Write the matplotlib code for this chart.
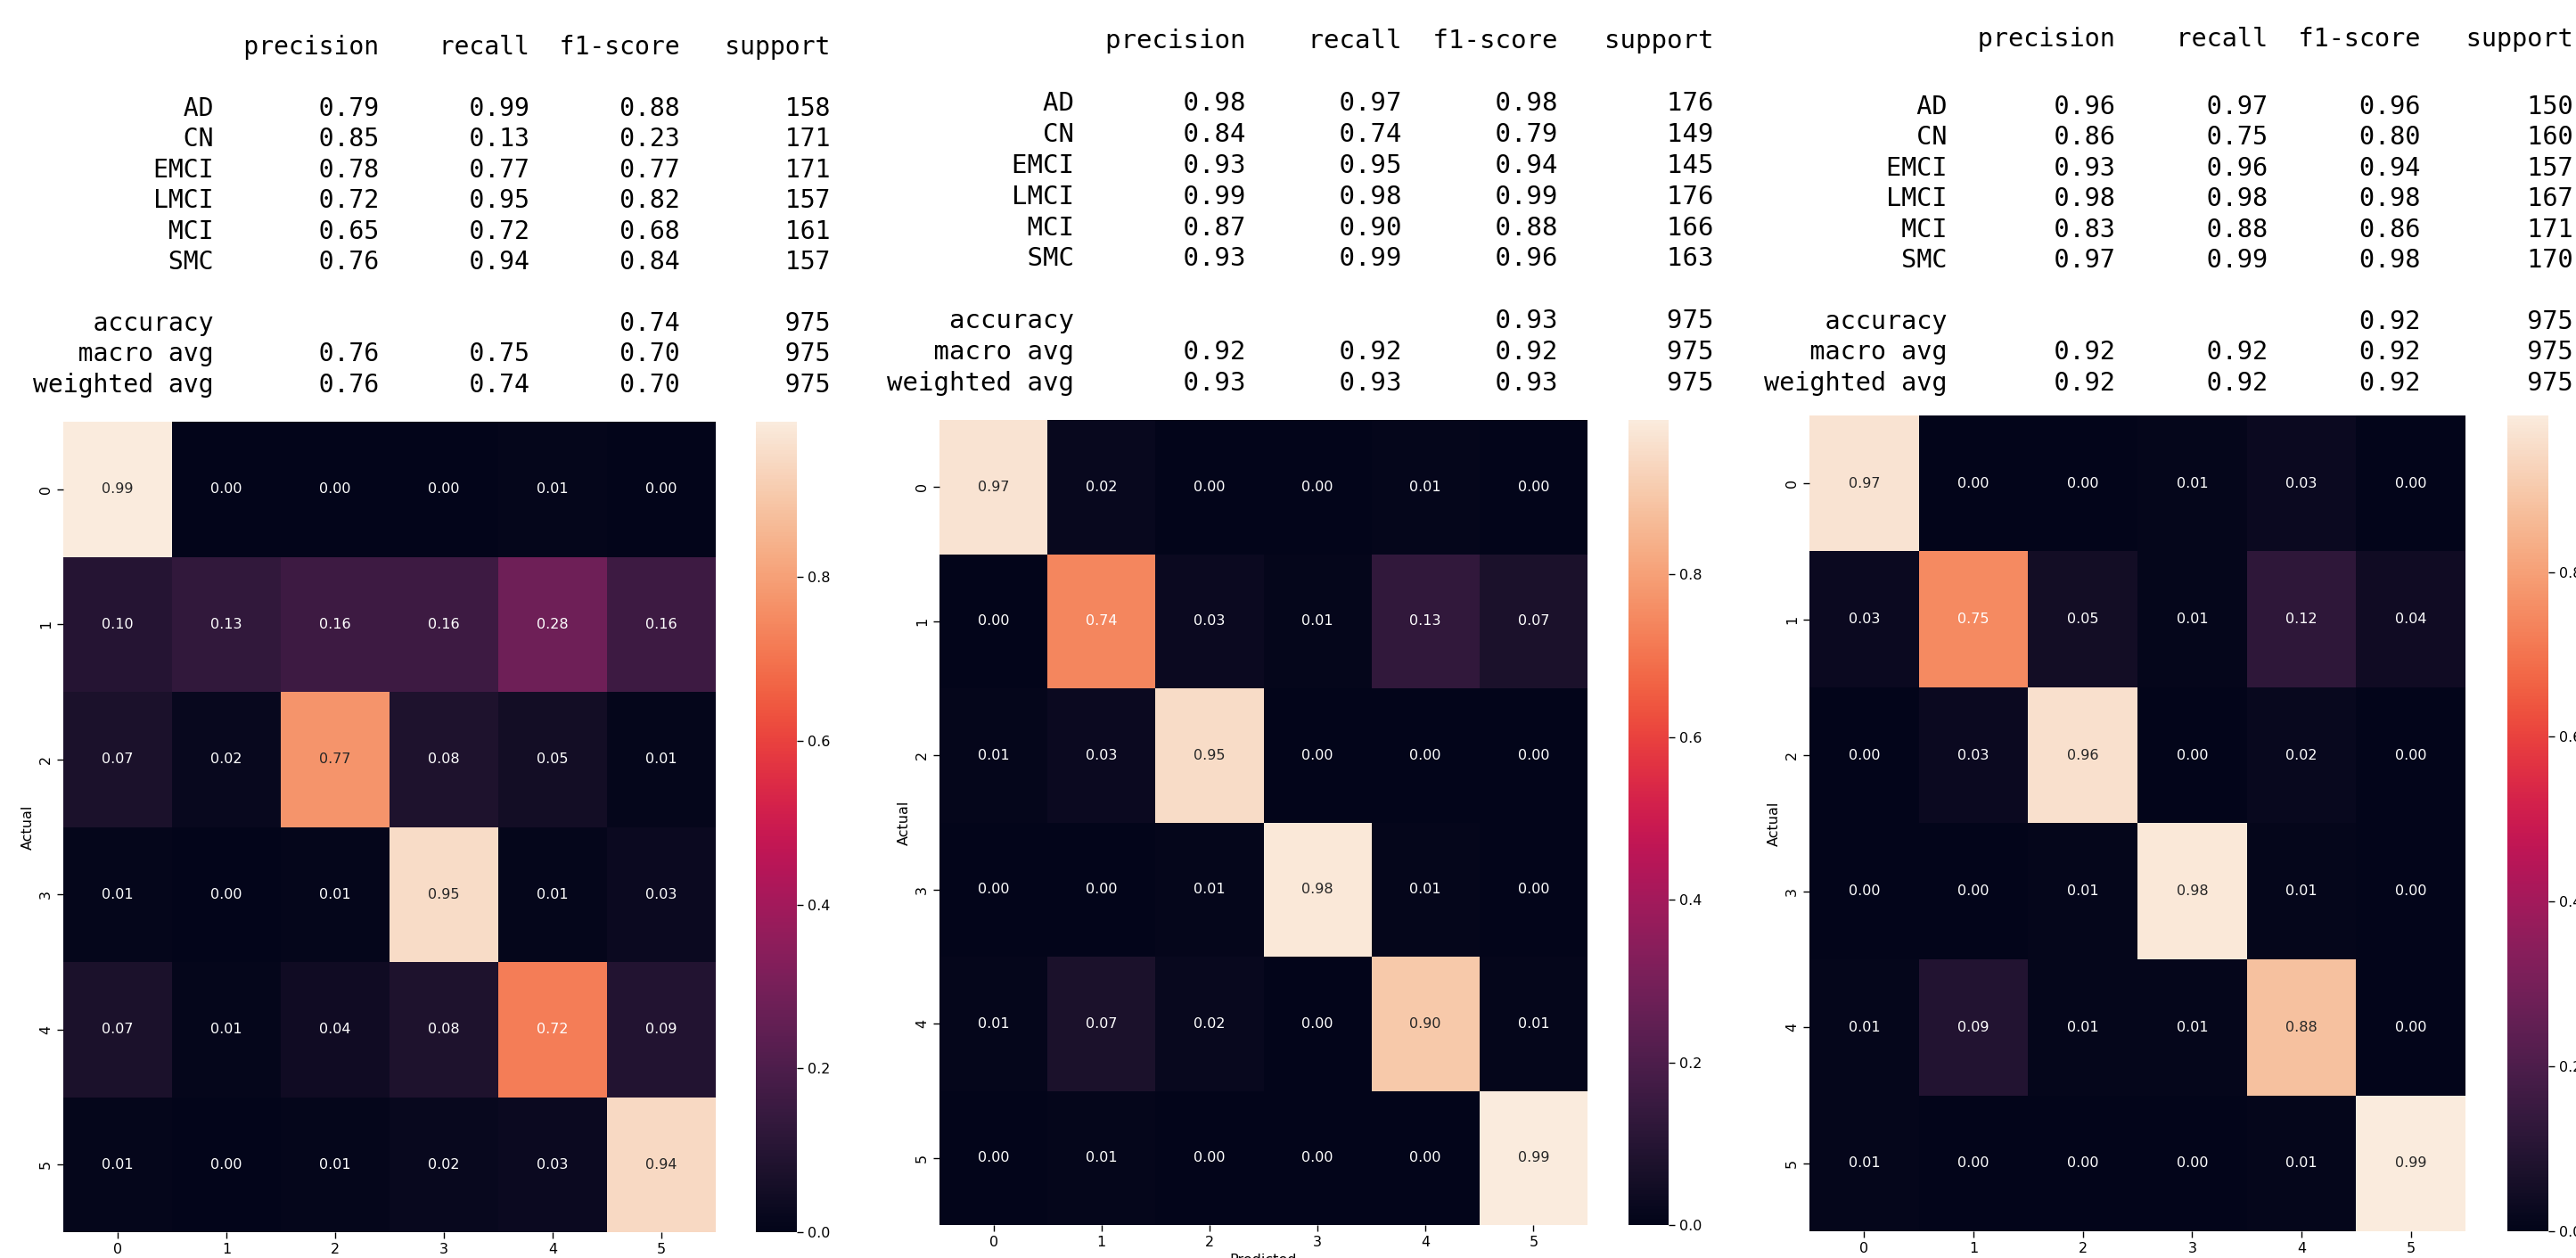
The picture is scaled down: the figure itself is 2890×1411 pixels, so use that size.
import numpy as np
import matplotlib
matplotlib.use("Agg")
import matplotlib.pyplot as plt
import seaborn as sns

W, H, DPI = 2890, 1411, 100

class_names = ["AD", "CN", "EMCI", "LMCI", "MCI", "SMC"]
report_headers = ["precision", "recall", "f1-score", "support"]
avg_names = ["macro avg", "weighted avg"]

# run 1
precision_1 = [0.79, 0.85, 0.78, 0.72, 0.65, 0.76]
recall_1 = [0.99, 0.13, 0.77, 0.95, 0.72, 0.94]
f1_1 = [0.88, 0.23, 0.77, 0.82, 0.68, 0.84]
support_1 = [158, 171, 171, 157, 161, 157]
accuracy_1 = 0.74
avgs_1 = [[0.76, 0.75, 0.70], [0.76, 0.74, 0.70]]
cm_1 = [
    [0.99, 0.00, 0.00, 0.00, 0.01, 0.00],
    [0.10, 0.13, 0.16, 0.16, 0.28, 0.16],
    [0.07, 0.02, 0.77, 0.08, 0.05, 0.01],
    [0.01, 0.00, 0.01, 0.95, 0.01, 0.03],
    [0.07, 0.01, 0.04, 0.08, 0.72, 0.09],
    [0.01, 0.00, 0.01, 0.02, 0.03, 0.94],
]

# run 2
precision_2 = [0.98, 0.84, 0.93, 0.99, 0.87, 0.93]
recall_2 = [0.97, 0.74, 0.95, 0.98, 0.90, 0.99]
f1_2 = [0.98, 0.79, 0.94, 0.99, 0.88, 0.96]
support_2 = [176, 149, 145, 176, 166, 163]
accuracy_2 = 0.93
avgs_2 = [[0.92, 0.92, 0.92], [0.93, 0.93, 0.93]]
cm_2 = [
    [0.97, 0.02, 0.00, 0.00, 0.01, 0.00],
    [0.00, 0.74, 0.03, 0.01, 0.13, 0.07],
    [0.01, 0.03, 0.95, 0.00, 0.00, 0.00],
    [0.00, 0.00, 0.01, 0.98, 0.01, 0.00],
    [0.01, 0.07, 0.02, 0.00, 0.90, 0.01],
    [0.00, 0.01, 0.00, 0.00, 0.00, 0.99],
]

# run 3
precision_3 = [0.96, 0.86, 0.93, 0.98, 0.83, 0.97]
recall_3 = [0.97, 0.75, 0.96, 0.98, 0.88, 0.99]
f1_3 = [0.96, 0.80, 0.94, 0.98, 0.86, 0.98]
support_3 = [150, 160, 157, 167, 171, 170]
accuracy_3 = 0.92
avgs_3 = [[0.92, 0.92, 0.92], [0.92, 0.92, 0.92]]
cm_3 = [
    [0.97, 0.00, 0.00, 0.01, 0.03, 0.00],
    [0.03, 0.75, 0.05, 0.01, 0.12, 0.04],
    [0.00, 0.03, 0.96, 0.00, 0.02, 0.00],
    [0.00, 0.00, 0.01, 0.98, 0.01, 0.00],
    [0.01, 0.09, 0.01, 0.01, 0.88, 0.00],
    [0.01, 0.00, 0.00, 0.00, 0.01, 0.99],
]


def report_lines(prec, rec, f1, sup, acc, avgs, width=12):
    # same layout as sklearn's classification_report text output
    total = sum(sup)
    lines = [f"{'':>{width}s} " + "".join(f" {h:>9}" for h in report_headers), ""]
    for name, p, r, f, s in zip(class_names, prec, rec, f1, sup):
        lines.append(f"{name:>{width}s} " + f" {p:>9.2f} {r:>9.2f} {f:>9.2f}" + f" {s:>9}")
    lines.append("")
    lines.append(f"{'accuracy':>{width}s} " + f" {'':>9} {'':>9}" + f" {acc:>9.2f} {total:>9}")
    for name, (p, r, f) in zip(avg_names, avgs):
        lines.append(f"{name:>{width}s} " + f" {p:>9.2f} {r:>9.2f} {f:>9.2f}" + f" {total:>9}")
    return lines


def frac_rect(x0, y0, x1, y1):
    return [x0 / W, 1 - y1 / H, (x1 - x0) / W, (y1 - y0) / H]


fig = plt.figure(figsize=(W / DPI, H / DPI), dpi=DPI)

# tx/ty: left edge and first row baseline in pixels, hy: header baseline
panels = [
    dict(report=report_lines(precision_1, recall_1, f1_1, support_1, accuracy_1, avgs_1), cm=cm_1,
         tx=37, hy=61, ty=130, step=34.4, fs=20.24,
         ax=(71, 473, 803, 1382), cax=(848, 473, 894, 1382)),
    dict(report=report_lines(precision_2, recall_2, f1_2, support_2, accuracy_2, avgs_2), cm=cm_2,
         tx=995, hy=54, ty=124, step=34.9, fs=20.9,
         ax=(1054, 471, 1781, 1374), cax=(1827, 471, 1872, 1374)),
    dict(report=report_lines(precision_3, recall_3, f1_3, support_3, accuracy_3, avgs_3), cm=cm_3,
         tx=1979, hy=52, ty=128, step=34.4, fs=20.57,
         ax=(2030, 466, 2766, 1381), cax=(2813, 466, 2859, 1381)),
]

fs_small = 11.5
for p in panels:
    for i, line in enumerate(p["report"]):
        if not line:
            continue
        y = p["hy"] if i == 0 else p["ty"] + (i - 2) * p["step"]
        fig.text(p["tx"] / W, 1 - y / H, line,
                 family="DejaVu Sans Mono", fontsize=p["fs"], ha="left", va="baseline")

    ax = fig.add_axes(frac_rect(*p["ax"]))
    cax = fig.add_axes(frac_rect(*p["cax"]))
    sns.heatmap(np.array(p["cm"]), annot=True, fmt=".2f", cmap="rocket", ax=ax, cbar_ax=cax,
                annot_kws={"fontsize": fs_small})
    ax.set_xlabel("Predicted", fontsize=fs_small)
    ax.set_ylabel("Actual", fontsize=fs_small)
    ax.tick_params(labelsize=fs_small, length=5, width=1)
    for t in ax.get_yticklabels():
        t.set_rotation(90)
        t.set_va("center")
    cax.tick_params(labelsize=fs_small, length=5, width=1)

fig.savefig("out.png", dpi=DPI)
